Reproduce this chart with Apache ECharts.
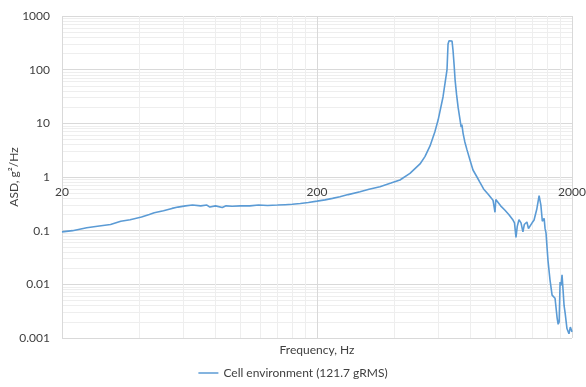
<!DOCTYPE html>
<html>
<head>
<meta charset="utf-8">
<script src="https://cdn.jsdelivr.net/npm/echarts@6/dist/echarts.min.js"></script>
<style>html,body{margin:0;padding:0;background:#fff;}#c{width:586px;height:387px;}</style>
</head>
<body>
<div id="c"></div>
<script>
// Frequency (Hz) and ASD (g^2/Hz)
const freq = [20, 22, 25, 28, 31, 34, 37, 41, 44, 46, 50, 54, 57, 61, 65, 70, 74, 76, 80, 85, 88, 93, 100, 109, 118, 128, 140, 150, 160, 172, 185, 200, 215, 230, 246, 265, 295, 320, 353, 390, 423, 463, 507, 530, 555, 580, 597, 624, 640, 647, 653, 659, 665, 671, 677, 683, 690, 696, 705, 715, 725, 735, 740, 748, 760, 775, 796, 818, 848, 870, 900, 940, 980, 990, 998, 1005, 1016, 1050, 1092, 1130, 1174, 1190, 1206, 1220, 1239, 1262, 1284, 1300, 1331, 1350, 1369, 1395, 1420, 1455, 1486, 1510, 1530, 1540, 1555, 1568, 1582, 1596, 1610, 1640, 1671, 1690, 1716, 1748, 1765, 1781, 1796, 1812, 1828, 1845, 1862, 1880, 1911, 1946, 1970, 2000];
const asd = [0.095, 0.1, 0.113, 0.122, 0.13, 0.15, 0.16, 0.18, 0.2, 0.215, 0.235, 0.26, 0.275, 0.29, 0.3, 0.29, 0.3, 0.275, 0.29, 0.27, 0.29, 0.285, 0.29, 0.29, 0.3, 0.295, 0.3, 0.305, 0.31, 0.32, 0.335, 0.355, 0.375, 0.4, 0.43, 0.47, 0.53, 0.59, 0.66, 0.77, 0.88, 1.17, 1.75, 2.4, 3.8, 7, 11.5, 31, 70, 100, 300, 345, 360, 350, 340, 230, 120, 64, 35, 20, 13, 8.5, 9.5, 6.5, 4.5, 3.2, 2.07, 1.35, 1.0, 0.8, 0.6, 0.47, 0.37, 0.4, 0.22, 0.38, 0.35, 0.29, 0.24, 0.2, 0.158, 0.14, 0.075, 0.12, 0.16, 0.14, 0.095, 0.13, 0.145, 0.11, 0.112, 0.14, 0.158, 0.25, 0.45, 0.3, 0.15, 0.145, 0.17, 0.11, 0.09, 0.05, 0.028, 0.012, 0.0063, 0.0065, 0.0055, 0.0024, 0.0018, 0.002, 0.011, 0.0095, 0.015, 0.0078, 0.004, 0.0029, 0.0015, 0.0012, 0.0016, 0.0013];

const xMajorTicks = [20, 200, 2000];
const xMinorTicks = [40, 60, 80, 100, 120, 140, 160, 180, 400, 600, 800, 1000, 1200, 1400, 1600, 1800];
const yMajorTicks = [0.001, 0.01, 0.1, 1, 10, 100, 1000];
const yMinorTicks = [];
for (let e = -3; e <= 2; e++) {
  for (let k = 2; k <= 9; k++) yMinorTicks.push(Number((k * Math.pow(10, e)).toPrecision(3)));
}

const seriesName = 'Cell environment (121.7 gRMS)';
const xName = 'Frequency, Hz';
const yName = 'ASD, g\u00B2/Hz';

const FONT = 'Lato';
const TXT = '#404040';

const minorAxisBase = {
  type: 'log', logBase: 10,
  axisLabel: { show: false }, axisLine: { show: false },
  splitLine: { show: true, lineStyle: { color: '#eeeeee', width: 1 } }
};

const chart = echarts.init(document.getElementById('c'));
chart.setOption({
  animation: false,
  backgroundColor: '#ffffff',
  grid: { left: 62, right: 14, top: 16, bottom: 49, containLabel: false, outerBoundsMode: 'none' },
  xAxis: [
    Object.assign({}, minorAxisBase, { position: 'bottom', min: 20, max: 2000, axisTick: { show: false, customValues: xMinorTicks } }),
    {
      type: 'log', logBase: 10, min: 20, max: 2000, position: 'bottom',
      name: xName, nameLocation: 'middle', nameGap: 6, nameMoveOverlap: false,
      nameTextStyle: { fontFamily: FONT, fontSize: 12, color: TXT },
      axisLine: { show: false },
      axisTick: { show: false, customValues: xMajorTicks },
      axisLabel: { customValues: xMajorTicks, margin: -152, fontFamily: FONT, fontSize: 12, color: TXT,
                   formatter: v => String(Math.round(v)) },
      splitLine: { show: true, lineStyle: { color: '#d9d9d9', width: 1 } }
    }
  ],
  yAxis: [
    Object.assign({}, minorAxisBase, { position: 'left', min: 0.001, max: 1000, axisTick: { show: false, customValues: yMinorTicks } }),
    {
      type: 'log', logBase: 10, min: 0.001, max: 1000, position: 'left',
      name: yName, nameLocation: 'middle', nameGap: 42, nameRotate: 90, nameMoveOverlap: false,
      nameTextStyle: { fontFamily: FONT, fontSize: 12, color: TXT },
      axisLine: { show: false },
      axisTick: { show: false, customValues: yMajorTicks },
      axisLabel: { customValues: yMajorTicks, margin: 12, fontFamily: FONT, fontSize: 12, color: TXT,
                   formatter: v => String(Number(v.toPrecision(3))) },
      splitLine: { show: true, lineStyle: { color: '#d9d9d9', width: 1 } }
    }
  ],
  legend: {
    left: 'center', bottom: 3,
    itemWidth: 20, itemHeight: 10, itemGap: 10,
    textStyle: { fontFamily: FONT, fontSize: 12, color: TXT },
    data: [{ name: seriesName, icon: 'path://M0,5L20,5L20,6.5L0,6.5Z' }]
  },
  series: [{
    name: seriesName, type: 'line', xAxisIndex: 1, yAxisIndex: 1,
    data: freq.map((f, i) => [f, asd[i]]),
    symbol: 'none', smooth: false,
    lineStyle: { color: '#5b9bd5', width: 1.6 },
    itemStyle: { color: '#5b9bd5' }
  }]
});
</script>
</body>
</html>
